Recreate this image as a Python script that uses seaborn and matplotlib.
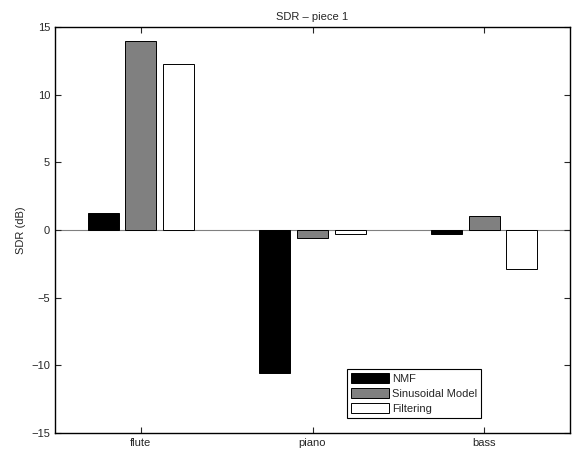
import numpy as np
import pandas as pd
import seaborn as sns
import matplotlib.pyplot as plt

sns.set_style('white')
plt.rcParams['font.family'] = ['Liberation Sans', 'DejaVu Sans']

# SDR values
instruments = ['flute', 'piano', 'bass']
methods = ['NMF', 'Sinusoidal Model', 'Filtering']
nmf = [1.25, -10.57, -0.33]
sinusoidal = [14.0, -0.61, 1.07]
filtering = [12.3, -0.31, -2.9]

df = pd.DataFrame({
    'instrument': instruments * 3,
    'method': np.repeat(methods, 3),
    'sdr': nmf + sinusoidal + filtering,
})

fig = plt.figure(figsize=(5.74, 4.5), dpi=100)
ax = fig.add_axes([55 / 574, 17 / 450, 515 / 574, 406 / 450])

sns.barplot(data=df, x='instrument', y='sdr', hue='method',
            order=instruments, hue_order=methods,
            palette=['black', '#808080', 'white'],
            width=0.66, gap=0.18, edgecolor='black', linewidth=0.7,
            errorbar=None, ax=ax)

ax.axhline(0, color='#808080', lw=0.8, zorder=0.5)
ax.set_xlim(-0.5, 2.5)
ax.set_ylim(-15, 15)
ax.set_yticks([-15, -10, -5, 0, 5, 10, 15])
ax.set_xlabel('')
ax.set_ylabel('SDR (dB)', fontsize=8)
ax.set_title('SDR \u2013 piece 1', fontsize=8, pad=5)
ax.tick_params(direction='in', length=4, width=0.8, labelsize=8,
               top=True, right=True, bottom=True, left=True)
for s in ax.spines.values():
    s.set_color('black')
    s.set_linewidth(1.0)

leg = ax.legend(loc='lower left', bbox_to_anchor=(0.567, 0.037),
                borderaxespad=0, fontsize=8, fancybox=False,
                framealpha=1, edgecolor='black', handlelength=3.4,
                handleheight=1.0, handletextpad=0.3, borderpad=0.35,
                labelspacing=0.4)
leg.get_frame().set_linewidth(0.8)

fig.savefig('out.png', dpi=100)
